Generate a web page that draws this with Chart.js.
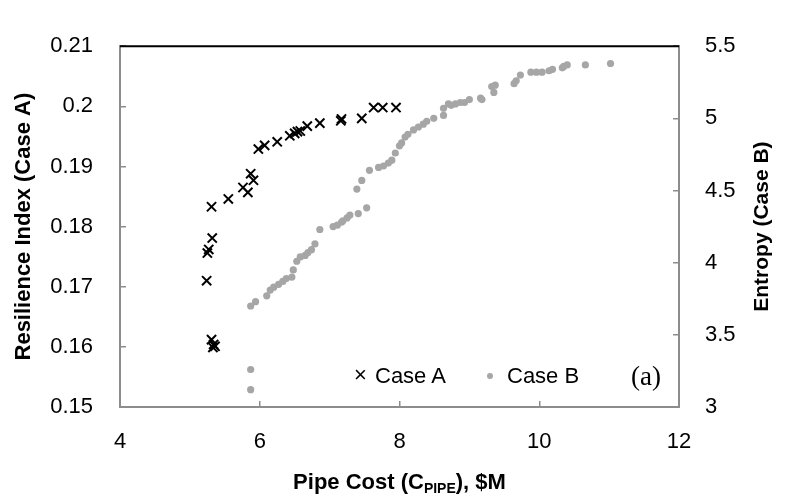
<!DOCTYPE html>
<html>
<head>
<meta charset="utf-8">
<script src="https://cdn.jsdelivr.net/npm/chart.js@4.4.0/dist/chart.umd.min.js"></script>
<style>
  html, body { margin: 0; padding: 0; background: #fff; }
  #wrap { position: relative; width: 804px; height: 501px; }
  .lg { position: absolute; font-family: 'Liberation Sans', Arial, sans-serif;
        font-size: 22px; line-height: 26px; color: #000; white-space: nowrap; }
  .dot { position: absolute; width: 6px; height: 6px; border-radius: 50%; background: #a6a6a6; }
</style>
</head>
<body>
<div id="wrap">
  <canvas id="myChart" width="804" height="501"></canvas>
  <span class="lg" style="left:354px;top:362px;">×</span>
  <span class="lg" style="left:375px;top:363px;">Case A</span>
  <span class="dot" style="left:487px;top:373px;"></span>
  <span class="lg" style="left:507px;top:363px;">Case B</span>
  <span class="lg" style="left:631px;top:361px;font-family:'Liberation Serif',serif;font-size:27px;line-height:30px;">(a)</span>
</div>
<script>
  // Case A: resilience index vs pipe cost
  const caseA_cost = [7.63, 7.76, 7.95, 7.46, 7.17, 7.16, 6.86, 6.68, 6.58, 6.54, 6.50, 6.43,
    6.25, 6.07, 5.98, 5.87, 5.91, 5.76, 5.83, 5.55, 5.31, 5.32, 5.25, 5.27, 5.24, 5.31, 5.36, 5.33, 5.34];
  const caseA_ri = [0.1998, 0.1998, 0.1998, 0.1980, 0.1979, 0.1976, 0.1972, 0.1967, 0.1959, 0.1958, 0.1955, 0.1951,
    0.1941, 0.1935, 0.1929, 0.1888, 0.1877, 0.1865, 0.1857, 0.1846, 0.1833, 0.1781, 0.1756, 0.1762, 0.1710, 0.1612, 0.1601, 0.1599, 0.1604];

  // Case B: entropy vs pipe cost
  const caseB_cost = [5.87, 5.87, 5.87, 5.94, 6.10, 6.15, 6.20, 6.27, 6.33, 6.38, 6.46, 6.48,
    6.53, 6.58, 6.65, 6.69, 6.74, 6.79, 6.86, 7.05, 7.11, 7.17, 7.19, 7.25, 7.29, 7.41, 7.53,
    7.39, 7.46, 7.57, 7.70, 7.77, 7.84, 7.89, 7.94, 8.00, 8.03, 8.08, 8.12, 8.20, 8.27, 8.34,
    8.39, 8.49, 8.63, 8.63, 8.70, 8.74, 8.80, 8.87, 8.93, 9.00, 9.16, 9.18, 9.35, 9.32, 9.37,
    9.64, 9.67, 9.73, 9.88, 9.96, 10.04, 10.14, 10.19, 10.33, 10.35, 10.40, 10.66, 11.02];
  const caseB_entropy = [3.12, 3.26, 3.70, 3.73, 3.77, 3.81, 3.83, 3.85, 3.87, 3.89, 3.90, 3.95,
    4.01, 4.04, 4.05, 4.07, 4.09, 4.13, 4.23, 4.25, 4.26, 4.28, 4.29, 4.31, 4.33, 4.34, 4.38,
    4.51, 4.57, 4.64, 4.66, 4.67, 4.69, 4.71, 4.76, 4.81, 4.83, 4.87, 4.89, 4.92, 4.94, 4.96,
    4.98, 5.00, 5.02, 5.07, 5.10, 5.09, 5.10, 5.11, 5.11, 5.13, 5.14, 5.13, 5.18, 5.22, 5.23,
    5.24, 5.26, 5.30, 5.32, 5.32, 5.32, 5.33, 5.34, 5.35, 5.36, 5.37, 5.37, 5.38];

  const fam = "'Liberation Sans', Arial, sans-serif";
  const tickFont = { family: fam, size: 22 };
  const titleFont = "bold 22px " + fam;
  const axisGray = '#8c8c8c';

  // top frame line + x title (with subscript) + right title reading bottom-to-top
  const frameAndTitles = {
    id: 'frameAndTitles',
    afterDraw(chart) {
      const ctx = chart.ctx, a = chart.chartArea;
      ctx.save();
      ctx.strokeStyle = '#000';
      ctx.lineWidth = 2;
      ctx.beginPath();
      ctx.moveTo(a.left, a.top);
      ctx.lineTo(a.right, a.top);
      ctx.stroke();

      ctx.fillStyle = '#000';
      ctx.textBaseline = 'alphabetic';
      const subFont = "bold 14px " + fam;
      const p1 = 'Pipe Cost (C', sub = 'PIPE', p2 = '), $M';
      ctx.font = titleFont;
      const w1 = ctx.measureText(p1).width, w3 = ctx.measureText(p2).width;
      ctx.font = subFont;
      const w2 = ctx.measureText(sub).width;
      let x = (a.left + a.right) / 2 - (w1 + w2 + w3) / 2;
      const base = 489;
      ctx.textAlign = 'left';
      ctx.font = titleFont; ctx.fillText(p1, x, base); x += w1;
      ctx.font = subFont; ctx.fillText(sub, x, base + 4); x += w2;
      ctx.font = titleFont; ctx.fillText(p2, x, base);

      ctx.translate(762, (a.top + a.bottom) / 2);
      ctx.rotate(-Math.PI / 2);
      ctx.textAlign = 'center';
      ctx.textBaseline = 'middle';
      ctx.font = "bold 21px " + fam;
      ctx.fillText('Entropy (Case B)', 0, 0);
      ctx.restore();
    }
  };

  const config = {
    type: 'scatter',
    data: {
      datasets: [{
        label: 'Case A',
        data: caseA_cost.map((c, i) => ({ x: c, y: caseA_ri[i] })),
        yAxisID: 'yA',
        pointStyle: 'crossRot',
        pointRadius: 6.5,
        pointHoverRadius: 6.5,
        borderColor: '#000',
        borderWidth: 2,
        backgroundColor: '#000'
      }, {
        label: 'Case B',
        data: caseB_cost.map((c, i) => ({ x: c, y: caseB_entropy[i] })),
        yAxisID: 'yB',
        pointStyle: 'circle',
        pointRadius: 3.6,
        pointHoverRadius: 3.6,
        borderWidth: 0,
        backgroundColor: '#a6a6a6',
        borderColor: '#a6a6a6'
      }]
    },
    options: {
      responsive: false,
      animation: false,
      layout: { padding: { top: 20, left: 0, right: 0, bottom: 0 } },
      plugins: { legend: { display: false }, tooltip: { enabled: false } },
      scales: {
        x: {
          type: 'linear', min: 4, max: 12,
          ticks: { stepSize: 2, font: tickFont, color: '#000', padding: 28 },
          grid: { drawOnChartArea: false, tickLength: -6, color: axisGray, lineWidth: 1.5 },
          border: { color: axisGray, width: 2 },
          afterFit(s) { s.height = 94; }
        },
        yA: {
          position: 'left', min: 0.15, max: 0.21,
          ticks: { stepSize: 0.01, font: tickFont, color: '#000', padding: 33,
                   callback: v => String(+v.toFixed(2)) },
          grid: { drawOnChartArea: false, tickLength: -6, color: axisGray, lineWidth: 1.5 },
          border: { color: axisGray, width: 2 },
          title: { display: true, text: 'Resilience Index (Case A)', color: '#000',
                   font: { family: fam, size: 22, weight: 'bold' }, padding: { top: 11, bottom: 0 } },
          afterFit(s) { s.width = 120; }
        },
        yB: {
          position: 'right', min: 3, max: 5.5,
          ticks: { stepSize: 0.5, font: tickFont, color: '#000', padding: 32,
                   callback: v => String(+v.toFixed(1)) },
          grid: { drawOnChartArea: false, tickLength: -6, color: axisGray, lineWidth: 1.5 },
          border: { color: axisGray, width: 2 },
          afterFit(s) { s.width = 125; }
        }
      }
    },
    plugins: [frameAndTitles]
  };

  const myChart = new Chart(document.getElementById('myChart'), config);
</script>
</body>
</html>
